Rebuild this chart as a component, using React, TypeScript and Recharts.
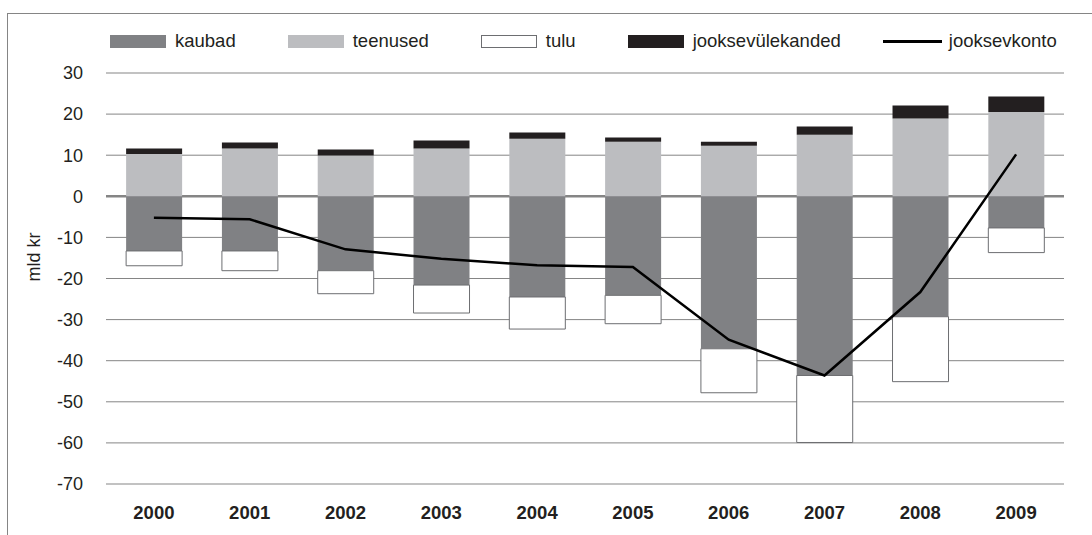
// Estonian current account by component, 2000–2009 (mld kr).
// Stacked bars split by sign, current account total as a line on top.

import {
    ComposedChart, Bar, Line,
    XAxis, YAxis, CartesianGrid,
} from "recharts";

const YEARS = ["2000", "2001", "2002", "2003", "2004", "2005", "2006", "2007", "2008", "2009"];
const KAUBAD = [-13.3, -13.3, -18.1, -21.6, -24.5, -24.1, -37.1, -43.6, -29.3, -7.7];
const TEENUSED = [10.3, 11.6, 9.9, 11.6, 14.0, 13.3, 12.3, 15.0, 18.9, 20.5];
const TULU = [-3.6, -4.8, -5.6, -6.8, -7.8, -6.9, -10.7, -16.3, -15.8, -6.0];
const JOOKSEVULEKANDED = [1.3, 1.5, 1.5, 2.0, 1.5, 1.0, 1.0, 2.0, 3.2, 3.8];
const JOOKSEVKONTO = [-5.2, -5.6, -12.9, -15.2, -16.8, -17.2, -34.9, -43.6, -23.3, 10.2];
const Y_TICKS = [-70, -60, -50, -40, -30, -20, -10, 0, 10, 20, 30];

const DARK = "#808184";
const LIGHT = "#BCBDC0";
const BLACK = "#231F20";
const GRID = "#858585";
const TEXT = "#231F20";
const FONT = "'Liberation Sans', Arial, sans-serif";

const data = YEARS.map((year, i) => ({
    year,
    kaubad: KAUBAD[i],
    teenused: TEENUSED[i],
    tulu: TULU[i],
    jooksevulekanded: JOOKSEVULEKANDED[i],
    jooksevkonto: JOOKSEVKONTO[i],
}));

const LEGEND = [
    { label: "kaubad", kind: "box", fill: DARK },
    { label: "teenused", kind: "box", fill: LIGHT },
    { label: "tulu", kind: "outline", fill: "#FFFFFF" },
    { label: "jooksevülekanded", kind: "box", fill: BLACK },
    { label: "jooksevkonto", kind: "line", fill: "#000000" },
];

function LegendRow() {
    return (
        <div style={{ position: "absolute", left: 110, top: 29, display: "flex", alignItems: "center", gap: 52, fontFamily: FONT, fontSize: 18.5, color: TEXT }}>
            {LEGEND.map((item) => (
                <div key={item.label} style={{ display: "flex", alignItems: "center", marginLeft: item.kind === "line" ? -10 : 0 }}>
                    {item.kind === "line" ? (
                        <div style={{ width: 59, height: 3, background: item.fill, marginRight: 7 }} />
                    ) : (
                        <div style={{
                            width: item.kind === "outline" ? 54 : 56,
                            height: item.kind === "outline" ? 11 : 13,
                            background: item.fill,
                            border: item.kind === "outline" ? "1px solid #6D6E71" : "none",
                            marginRight: 9,
                        }} />
                    )}
                    <span style={{ lineHeight: "24px" }}>{item.label}</span>
                </div>
            ))}
        </div>
    );
}

export default function App() {
    return (
        <div style={{ position: "absolute", left: 0, top: 0, width: 1092, height: 535, overflow: "hidden", background: "#fff" }}>
            <div style={{ position: "absolute", left: 7, top: 13, width: 1100, height: 540, border: `1px solid ${GRID}` }} />
            <LegendRow />
            <div style={{
                position: "absolute", left: 33.5, top: 257, transform: "translate(-50%, -50%) rotate(-90deg)",
                fontFamily: FONT, fontSize: 18, color: TEXT, whiteSpace: "nowrap",
            }}>
                mld kr
            </div>
            <div style={{ position: "absolute", left: 0, top: 0 }}>
                <ComposedChart
                    width={1092}
                    height={535}
                    data={data}
                    stackOffset="sign"
                    barCategoryGap="21%"
                    margin={{ top: 73, right: 28, bottom: 0, left: 0 }}
                >
                    <CartesianGrid vertical={false} stroke={GRID} strokeWidth={1} />
                    <CartesianGrid vertical={false} horizontalValues={[0]} stroke={GRID} strokeWidth={2.5} />
                    <XAxis
                        dataKey="year"
                        height={51}
                        axisLine={false}
                        tickLine={false}
                        tickSize={0}
                        tickMargin={22}
                        tick={{ fontSize: 18.5, fontWeight: 700, fill: TEXT, fontFamily: FONT }}
                    />
                    <YAxis
                        width={106}
                        domain={[-70, 30]}
                        ticks={Y_TICKS}
                        interval={0}
                        axisLine={false}
                        tickLine={false}
                        tickSize={0}
                        tickMargin={23}
                        tick={{ fontSize: 18, fill: TEXT, fontFamily: FONT }}
                    />
                    <Bar dataKey="kaubad" stackId="a" fill={DARK} isAnimationActive={false} />
                    <Bar dataKey="teenused" stackId="a" fill={LIGHT} isAnimationActive={false} />
                    <Bar dataKey="tulu" stackId="a" fill="#FFFFFF" stroke="#6D6E71" strokeWidth={1} isAnimationActive={false} />
                    <Bar dataKey="jooksevulekanded" stackId="a" fill={BLACK} isAnimationActive={false} />
                    <Line
                        type="linear"
                        dataKey="jooksevkonto"
                        stroke="#000"
                        strokeWidth={2.5}
                        dot={false}
                        activeDot={false}
                        isAnimationActive={false}
                    />
                </ComposedChart>
            </div>
        </div>
    );
}
